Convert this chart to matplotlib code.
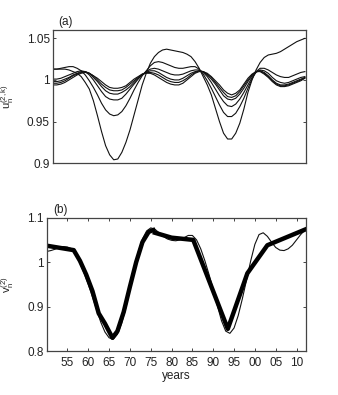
import matplotlib
matplotlib.use("Agg")
import matplotlib.pyplot as plt
import numpy as np

plt.rcParams['font.family'] = ['Liberation Sans', 'DejaVu Sans']

years = list(range(1950, 2013))

# Panel (a): u_n^(2,k) curves
u_A = [1.013, 1.013, 1.013, 1.013, 1.012, 1.010, 1.008, 1.004, 0.997, 0.989,
       0.975, 0.957, 0.938, 0.921, 0.910, 0.904, 0.905, 0.913, 0.925, 0.940,
       0.958, 0.976, 0.994, 1.008, 1.020, 1.028, 1.033, 1.036, 1.037, 1.036,
       1.035, 1.034, 1.033, 1.031, 1.028, 1.022, 1.014, 1.004, 0.994, 0.982,
       0.966, 0.950, 0.936, 0.929, 0.929, 0.936, 0.948, 0.965, 0.985, 1.000,
       1.012, 1.021, 1.027, 1.030, 1.031, 1.032, 1.034, 1.037, 1.040, 1.043,
       1.046, 1.048, 1.050]
u_B = [1.013, 1.013, 1.014, 1.015, 1.016, 1.016, 1.014, 1.011, 1.006, 0.999,
       0.991, 0.982, 0.972, 0.964, 0.959, 0.957, 0.958, 0.962, 0.969, 0.978,
       0.988, 0.997, 1.005, 1.011, 1.017, 1.021, 1.022, 1.021, 1.019, 1.017,
       1.015, 1.014, 1.014, 1.015, 1.016, 1.016, 1.013, 1.007, 0.999, 0.990,
       0.980, 0.970, 0.961, 0.956, 0.956, 0.960, 0.968, 0.978, 0.990, 1.001,
       1.010, 1.014, 1.014, 1.012, 1.009, 1.006, 1.004, 1.003, 1.003, 1.005,
       1.007, 1.009, 1.010]
u_C = [1.001, 1.001, 1.002, 1.004, 1.006, 1.008, 1.010, 1.011, 1.010, 1.006,
       1.000, 0.993, 0.986, 0.980, 0.977, 0.976, 0.976, 0.978, 0.983, 0.989,
       0.995, 1.001, 1.006, 1.010, 1.013, 1.014, 1.013, 1.011, 1.009, 1.007,
       1.006, 1.006, 1.007, 1.009, 1.011, 1.012, 1.012, 1.009, 1.004, 0.997,
       0.989, 0.981, 0.974, 0.969, 0.968, 0.971, 0.977, 0.985, 0.994, 1.003,
       1.009, 1.012, 1.011, 1.008, 1.003, 0.999, 0.997, 0.996, 0.997, 0.999,
       1.001, 1.003, 1.004]
u_D = [0.998, 0.998, 0.999, 1.001, 1.003, 1.006, 1.008, 1.010, 1.010, 1.008,
       1.003, 0.998, 0.992, 0.987, 0.984, 0.983, 0.983, 0.985, 0.988, 0.992,
       0.997, 1.002, 1.006, 1.009, 1.011, 1.011, 1.009, 1.006, 1.003, 1.001,
       1.000, 1.000, 1.002, 1.005, 1.008, 1.010, 1.011, 1.010, 1.006, 1.001,
       0.995, 0.988, 0.981, 0.977, 0.976, 0.978, 0.983, 0.990, 0.998, 1.005,
       1.010, 1.011, 1.009, 1.005, 1.000, 0.996, 0.994, 0.994, 0.995, 0.997,
       0.999, 1.001, 1.003]
u_E = [0.996, 0.996, 0.997, 0.999, 1.002, 1.005, 1.007, 1.009, 1.010, 1.008,
       1.005, 1.000, 0.995, 0.991, 0.988, 0.987, 0.987, 0.988, 0.991, 0.995,
       0.999, 1.003, 1.007, 1.009, 1.009, 1.008, 1.006, 1.003, 1.000, 0.998,
       0.997, 0.997, 0.999, 1.002, 1.006, 1.009, 1.011, 1.010, 1.007, 1.003,
       0.997, 0.991, 0.985, 0.980, 0.979, 0.981, 0.986, 0.993, 1.000, 1.006,
       1.010, 1.011, 1.008, 1.004, 0.999, 0.995, 0.993, 0.993, 0.994, 0.996,
       0.998, 1.000, 1.0025]
u_F = [0.994, 0.994, 0.995, 0.997, 1.000, 1.003, 1.006, 1.008, 1.009, 1.008,
       1.005, 1.002, 0.998, 0.994, 0.991, 0.990, 0.990, 0.991, 0.993, 0.997,
       1.001, 1.004, 1.007, 1.008, 1.008, 1.006, 1.003, 1.000, 0.997, 0.995,
       0.994, 0.994, 0.996, 1.000, 1.004, 1.008, 1.010, 1.010, 1.008, 1.004,
       0.999, 0.994, 0.988, 0.984, 0.982, 0.984, 0.988, 0.995, 1.002, 1.007,
       1.010, 1.010, 1.007, 1.003, 0.998, 0.994, 0.992, 0.992, 0.993, 0.995,
       0.997, 0.999, 1.002]

# Panel (b): thin smooth v_n^(2)
v_thin = [1.024, 1.026, 1.029, 1.033, 1.035, 1.034, 1.030, 1.018, 0.998, 0.975,
          0.950, 0.922, 0.893, 0.865, 0.843, 0.830, 0.827, 0.838, 0.862, 0.897,
          0.938, 0.982, 1.023, 1.052, 1.070, 1.077, 1.074, 1.066, 1.058, 1.052,
          1.049, 1.048, 1.050, 1.055, 1.060, 1.060, 1.050, 1.030, 1.003, 0.972,
          0.938, 0.902, 0.868, 0.845, 0.840, 0.852, 0.880, 0.918, 0.960, 1.003,
          1.040, 1.062, 1.066, 1.058, 1.045, 1.033, 1.027, 1.026, 1.030, 1.038,
          1.050, 1.062, 1.072]

# Panel (b): thick piecewise v_n^(2), two segments
thick1_years = [1950, 1956.5, 1958, 1959.5, 1961, 1962.5, 1964, 1965.8, 1967,
                1968.5, 1970, 1971.5, 1973, 1974.5, 1975.6]
thick1_vals = [1.037, 1.027, 1.003, 0.972, 0.935, 0.885, 0.862, 0.830, 0.845,
               0.888, 0.945, 1.000, 1.045, 1.068, 1.072]
thick2_years = [1976, 1980, 1985.2, 1993.5, 1998.2, 2003, 2012.25]
thick2_vals = [1.066, 1.055, 1.050, 0.850, 0.975, 1.038, 1.074]

xticks = [1955, 1960, 1965, 1970, 1975, 1980, 1985, 1990, 1995, 2000, 2005, 2010]
xticklabels = ['55', '60', '65', '70', '75', '80', '85', '90', '95', '00', '05', '10']

fig = plt.figure(figsize=(3.38, 3.95), dpi=100)
ax1 = fig.add_axes([0.156, 0.587, 0.749, 0.337])
ax2 = fig.add_axes([0.138, 0.111, 0.767, 0.338])

spine_col = '#444444'
for ax in (ax1, ax2):
    for s in ax.spines.values():
        s.set_color(spine_col)
        s.set_linewidth(0.9)
    ax.tick_params(direction='in', length=2.5, width=0.7, colors=spine_col,
                   labelcolor='#222222', labelsize=8.5, pad=2)

for u in (u_A, u_B, u_C, u_D, u_E, u_F):
    ax1.plot(years, u, color='#111111', lw=0.8)
ax1.set_xlim(1950, 2012.25)
ax1.set_ylim(0.9, 1.06)
ax1.set_yticks([0.9, 0.95, 1.0, 1.05])
ax1.set_yticklabels(['0.9', '0.95', '1', '1.05'])
ax1.set_xticks([])
ax1.tick_params(axis='y', left=True, right=True)
ax1.set_ylabel(r'$\mathregular{u_n^{(2,k)}}$', fontsize=8, color='#222222')
ax1.yaxis.set_label_coords(-0.145, 0.5)
ax1.text(0.022, 1.012, '(a)', transform=ax1.transAxes, fontsize=8.5,
         ha='left', va='bottom', color='#222222')

ax2.plot(years, v_thin, color='#111111', lw=0.8)
ax2.plot(thick1_years, thick1_vals, color='black', lw=3.2, solid_joinstyle='round')
ax2.plot(thick2_years, thick2_vals, color='black', lw=3.2, solid_joinstyle='round')
ax2.set_xlim(1950, 2012.25)
ax2.set_ylim(0.8, 1.1)
ax2.set_yticks([0.8, 0.9, 1.0, 1.1])
ax2.set_yticklabels(['0.8', '0.9', '1', '1.1'])
ax2.set_xticks(xticks)
ax2.set_xticklabels(xticklabels)
ax2.tick_params(left=True, right=True, top=True, bottom=True)
ax2.tick_params(axis='x', pad=4)
ax2.set_xlabel('years', fontsize=8.5, color='#222222', labelpad=1)
ax2.set_ylabel(r'$\mathregular{v_n^{(2)}}$', fontsize=8, color='#222222')
ax2.yaxis.set_label_coords(-0.12, 0.5)
ax2.text(0.025, 1.01, '(b)', transform=ax2.transAxes, fontsize=8.5,
         ha='left', va='bottom', color='#222222')

fig.savefig('out.png', dpi=100)
